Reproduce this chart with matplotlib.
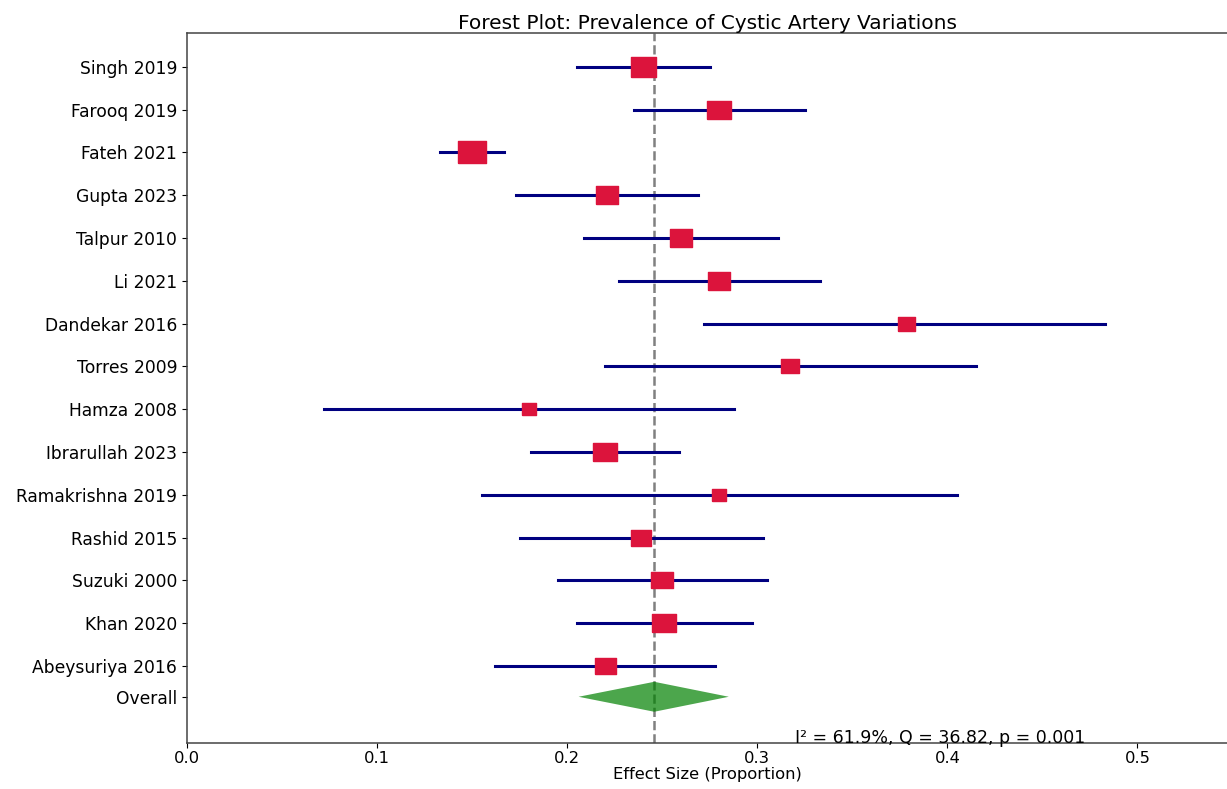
import matplotlib.pyplot as plt
import numpy as np
from matplotlib.path import Path

studies = ['Singh 2019', 'Farooq 2019', 'Fateh 2021', 'Gupta 2023', 'Talpur 2010',
           'Li 2021', 'Dandekar 2016', 'Torres 2009', 'Hamza 2008', 'Ibrarullah 2023',
           'Ramakrishna 2019', 'Rashid 2015', 'Suzuki 2000', 'Khan 2020', 'Abeysuriya 2016']
effect = [0.240, 0.280, 0.150, 0.221, 0.260, 0.280, 0.378, 0.317, 0.180, 0.220,
          0.280, 0.239, 0.250, 0.251, 0.220]
ci_low = [0.205, 0.235, 0.133, 0.173, 0.209, 0.227, 0.272, 0.220, 0.072, 0.181,
          0.155, 0.175, 0.195, 0.205, 0.162]
ci_high = [0.275, 0.325, 0.167, 0.269, 0.311, 0.333, 0.483, 0.415, 0.288, 0.259,
           0.405, 0.303, 0.305, 0.297, 0.278]
# relative study weights (drives marker size)
weights = [25, 24, 28, 23, 23, 23, 17, 18, 15, 24, 15, 20, 22, 24, 21]

pooled = 0.2458
pooled_low = 0.206
pooled_high = 0.285
het_text = "I² = 61.9%, Q = 36.82, p = 0.001"

fig = plt.figure(figsize=(12.27, 7.89), dpi=100)
ax = fig.add_axes([0.1524, 0.0583, 0.849, 0.900])

n = len(studies)
y = np.arange(n)[::-1].astype(float)
y_overall = -0.72

# wide rectangle marker
rect = Path([(-1.3, -1), (1.3, -1), (1.3, 1), (-1.3, 1), (-1.3, -1)])

ax.axvline(pooled, color='gray', linestyle='--', linewidth=1.8, zorder=2)

for i in range(n):
    ax.plot([ci_low[i], ci_high[i]], [y[i], y[i]], color='navy', linewidth=2.2, zorder=3)
    ax.plot(effect[i], y[i], marker=rect, color='crimson', markersize=weights[i] * 0.72,
            linestyle='none', zorder=4)

diamond_x = [pooled_low, pooled, pooled_high, pooled]
diamond_y = [y_overall, y_overall + 0.35, y_overall, y_overall - 0.35]
ax.fill(diamond_x, diamond_y, color='green', alpha=0.7, zorder=3, linewidth=0)

ax.set_yticks(list(y) + [y_overall])
ax.set_yticklabels(studies + ['Overall'], fontsize=12.3)
ax.set_xlim(0, 0.548)
ax.set_ylim(-1.80, n - 1 + 0.79)
ax.set_xticks([0.0, 0.1, 0.2, 0.3, 0.4, 0.5])
ax.tick_params(axis='x', labelsize=11.8, pad=2)
ax.set_xlabel("Effect Size (Proportion)", fontsize=11.8, labelpad=1)
ax.set_title("Forest Plot: Prevalence of Cystic Artery Variations", fontsize=14.5, pad=3)

ax.text(0.32, -1.80, het_text, fontsize=12.5, va='baseline', ha='left')

for s in ax.spines.values():
    s.set_linewidth(1.1)
    s.set_color('#444444')

plt.savefig('out.png', dpi=100)
